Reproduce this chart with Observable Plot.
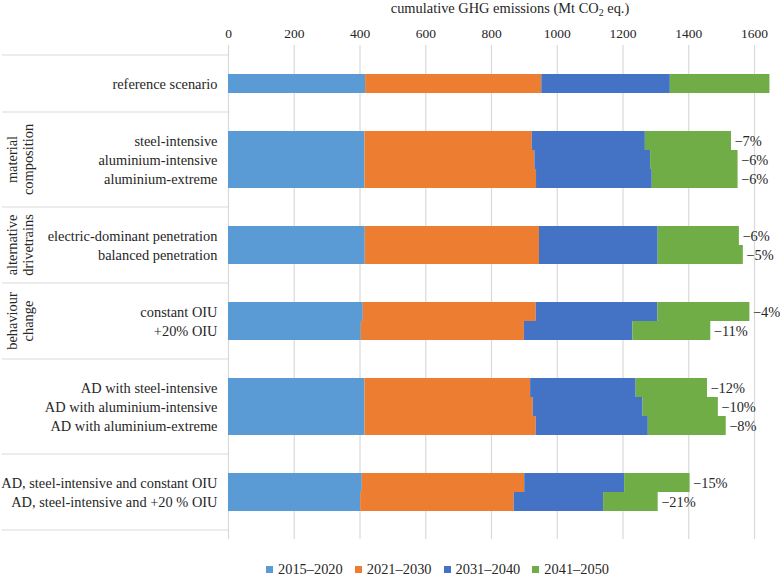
<!DOCTYPE html>
<html><head><meta charset="utf-8">
<script src="https://cdn.jsdelivr.net/npm/d3@7"></script>
<script src="https://cdn.jsdelivr.net/npm/@observablehq/plot@0.6"></script>
<style>
body{margin:0;background:#fff;font-family:"Liberation Serif","Times New Roman",serif;}
#legend{display:flex;gap:12px;margin-left:266px;margin-top:20px;font-size:14.4px;color:#262626;align-items:center}
.item{display:flex;align-items:center;gap:5px}
.sw{width:7px;height:7px;display:inline-block}
</style></head><body>
<div id="chart"></div><div id="legend"></div>
<script>
const periods = ["2015–2020","2021–2030","2031–2040","2041–2050"];
const colors = ["#5b9bd5","#ed7d31","#4472c4","#70ad47"];
const groupLabels = [[],["material","composition"],["alternative","drivetrains"],["behaviour","change"],[],[]];
const groupRows = [
  ["reference scenario"],
  ["steel-intensive","aluminium-intensive","aluminium-extreme"],
  ["electric-dominant penetration","balanced penetration"],
  ["constant OIU","+20% OIU"],
  ["AD with steel-intensive","AD with aluminium-intensive","AD with aluminium-extreme"],
  ["AD, steel-intensive and constant OIU","AD, steel-intensive and +20 % OIU"]
];
const e2015_2020 = [417,415,415,415,416,416,410,404,415,415,415,407,402];
const e2021_2030 = [536,509,517,522,530,530,526,496,504,512,521,494,467];
const e2031_2040 = [391,344,352,352,361,361,370,330,321,334,341,304,272];
const e2041_2050 = [303,262,266,261,247,259,280,237,217,229,237,199,166];
const changeLabels = ["","−7%","−6%","−6%","−6%","−5%","−4%","−11%","−12%","−10%","−8%","−15%","−21%"];
const xTicks = [0,200,400,600,800,1000,1200,1400,1600];

const scenarios = groupRows.flat();
const series = [e2015_2020,e2021_2030,e2031_2040,e2041_2050];
const data = [];
scenarios.forEach((s,i)=>periods.forEach((p,j)=>data.push({scenario:s, period:p, value:series[j][i]})));
const totals = scenarios.map((s,i)=>({scenario:s, total:series.reduce((a,v)=>a+v[i],0), label:changeLabels[i]}));
const yDomain = groupRows.flatMap((rows,g)=>[`_a${g}`, ...rows, `_b${g}`]);
const rowSet = new Set(scenarios);
const refTotal = totals[0].total;
const lastRow = scenarios[scenarios.length-1];

function panel(index, scales, values, dims) {
  const y = scales.y;
  const bw = y.bandwidth ? y.bandwidth() : 0;
  const g = d3.create("svg:g");
  const x2 = dims.marginLeft;
  const line = (yy)=>g.append("line").attr("x1",2).attr("x2",x2).attr("y1",yy).attr("y2",yy)
      .attr("stroke","#d9d9d9").attr("stroke-width",1.2);
  groupRows.forEach((rows,i)=>{
    const top = y(`_a${i}`);
    const bottom = y(`_b${i}`) + bw;
    line(top);
    if (i === groupRows.length-1) line(bottom);
    const cy = (top+bottom)/2;
    groupLabels[i].forEach((t,k)=>{
      g.append("text").attr("transform",`translate(${11.5+16*k},${cy}) rotate(-90)`)
        .attr("text-anchor","middle").attr("dy","0.35em")
        .attr("font-size",14.4).attr("fill","#262626").text(t);
    });
  });
  return g.node();
}

const plot = Plot.plot({
  width: 780, height: 541,
  marginLeft: 228, marginRight: 26, marginTop: 45, marginBottom: 2,
  style: {fontFamily: '"Liberation Serif","Times New Roman",serif', fontSize: "14.4px", color: "#262626", background: "#fff"},
  x: {domain: [0,1600]},
  y: {domain: yDomain, padding: 0},
  color: {domain: periods, range: colors},
  marks: [
    Plot.ruleX(xTicks, {stroke: "#d9d9d9", strokeWidth: 1.2}),
    Plot.barX(data, {x: "value", y: "scenario", fill: "period", order: periods}),
    Plot.ruleX([refTotal], {y1: scenarios[0], y2: lastRow, stroke: "#a6a6a6", strokeDasharray: "3,3"}),
    Plot.text(totals, {x: "total", y: "scenario", text: "label", dx: 3, textAnchor: "start", fill: "#262626", fontSize: 14.4}),
    Plot.axisX({anchor: "top", ticks: xTicks, tickSize: 0, tickPadding: 8, tickFormat: d=>String(d), label: null, fontSize: 13.5}),
    Plot.axisY({tickSize: 0, tickPadding: 11, tickFormat: d=>rowSet.has(d)?d:"", label: null, fontSize: 14.4}),
    panel
  ]
});
document.getElementById("chart").append(plot);

const svg = d3.select(plot);
const title = svg.append("text").attr("x",510).attr("y",13).attr("text-anchor","middle")
  .attr("font-size",14.4).attr("fill","#262626");
title.append("tspan").text("cumulative GHG emissions (Mt CO");
title.append("tspan").attr("font-size",10).attr("dy",3).text("2");
title.append("tspan").attr("dy",-3).text(" eq.)");

const lg = d3.select("#legend");
periods.forEach((p,i)=>{
  const it = lg.append("div").attr("class","item");
  it.append("span").attr("class","sw").style("background",colors[i]);
  it.append("span").text(p);
});
</script>
</body></html>
